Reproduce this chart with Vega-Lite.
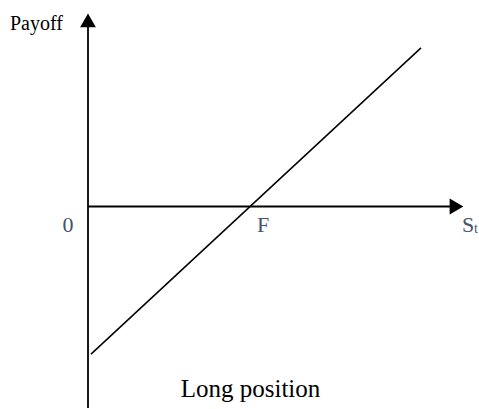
{
  "$schema": "https://vega.github.io/schema/vega-lite/v6.json",
  "width": 479,
  "height": 409,
  "padding": 0,
  "autosize": {"type": "fit", "contains": "padding"},
  "config": {"view": {"stroke": null}},
  "encoding": {
    "x": {"type": "quantitative", "scale": {"domain": [-88, 391], "nice": false, "zero": false}, "axis": null},
    "y": {"type": "quantitative", "scale": {"domain": [-202, 207], "nice": false, "zero": false}, "axis": null}
  },
  "layer": [
    {
      "data": {"values": [
        {"axis": "payoff", "x": 0, "x2": 0, "y": -202, "y2": 180},
        {"axis": "price", "x": 0, "x2": 362, "y": 0, "y2": 0}
      ]},
      "mark": {"type": "rule", "color": "#000000", "strokeWidth": 1.8},
      "encoding": {
        "x": {"field": "x", "type": "quantitative"},
        "x2": {"field": "x2"},
        "y": {"field": "y", "type": "quantitative"},
        "y2": {"field": "y2"}
      }
    },
    {
      "data": {"values": [
        {"dir": "up", "x": 0, "y": 186.5},
        {"dir": "right", "x": 368.5, "y": 0}
      ]},
      "mark": {"type": "point", "filled": true, "color": "#000000", "opacity": 1, "size": 250},
      "encoding": {
        "x": {"field": "x", "type": "quantitative"},
        "y": {"field": "y", "type": "quantitative"},
        "shape": {"field": "dir", "type": "nominal", "scale": {"domain": ["up", "right"], "range": ["triangle-up", "triangle-right"]}, "legend": null}
      }
    },
    {
      "data": {"values": [
        {"s": 3, "payoff": -148},
        {"s": 333, "payoff": 159}
      ]},
      "mark": {"type": "line", "color": "#000000", "strokeWidth": 1.5},
      "encoding": {
        "x": {"field": "s", "type": "quantitative"},
        "y": {"field": "payoff", "type": "quantitative"}
      }
    },
    {
      "data": {"values": [{"label": "Payoff", "x": -78, "y": 177}]},
      "mark": {"type": "text", "align": "left", "baseline": "alphabetic", "font": "Liberation Serif", "fontSize": 20, "color": "#000000"},
      "encoding": {
        "x": {"field": "x", "type": "quantitative"},
        "y": {"field": "y", "type": "quantitative"},
        "text": {"field": "label"}
      }
    },
    {
      "data": {"values": [{"label": "Long position", "x": 162.5, "y": -191}]},
      "mark": {"type": "text", "align": "center", "baseline": "alphabetic", "font": "Liberation Serif", "fontSize": 25, "color": "#000000"},
      "encoding": {
        "x": {"field": "x", "type": "quantitative"},
        "y": {"field": "y", "type": "quantitative"},
        "text": {"field": "label"}
      }
    },
    {
      "data": {"values": [
        {"label": "0", "x": -20, "y": -26},
        {"label": "F", "x": 175, "y": -26}
      ]},
      "mark": {"type": "text", "align": "center", "baseline": "alphabetic", "font": "Liberation Serif", "fontSize": 22, "color": "#44546A"},
      "encoding": {
        "x": {"field": "x", "type": "quantitative"},
        "y": {"field": "y", "type": "quantitative"},
        "text": {"field": "label"}
      }
    },
    {
      "data": {"values": [{"label": "S", "x": 374, "y": -26}]},
      "mark": {"type": "text", "align": "left", "baseline": "alphabetic", "font": "Liberation Serif", "fontSize": 22, "color": "#44546A"},
      "encoding": {
        "x": {"field": "x", "type": "quantitative"},
        "y": {"field": "y", "type": "quantitative"},
        "text": {"field": "label"}
      }
    },
    {
      "data": {"values": [{"label": "t", "x": 386, "y": -27}]},
      "mark": {"type": "text", "align": "left", "baseline": "alphabetic", "font": "Liberation Serif", "fontSize": 14, "color": "#44546A"},
      "encoding": {
        "x": {"field": "x", "type": "quantitative"},
        "y": {"field": "y", "type": "quantitative"},
        "text": {"field": "label"}
      }
    }
  ]
}
